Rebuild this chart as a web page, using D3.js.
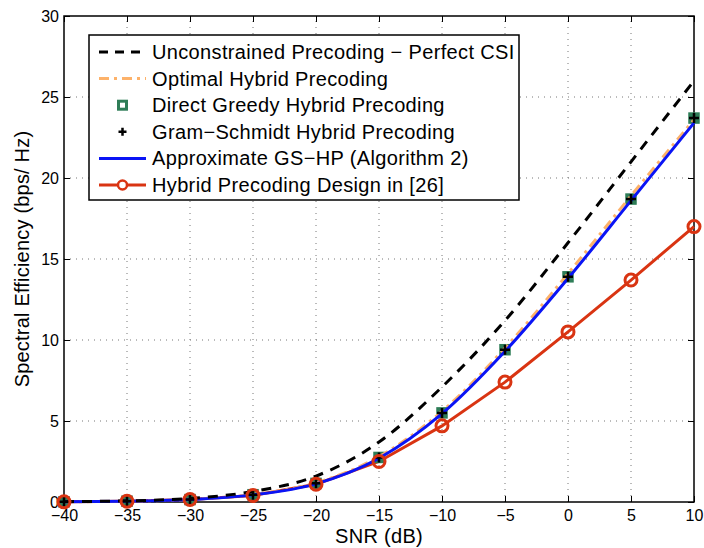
<!DOCTYPE html>
<html>
<head>
<meta charset="utf-8">
<style>
body { margin: 0; background: #fff; }
text { font-family: Arial, "Liberation Sans", sans-serif; fill: #000; }
.grid line { stroke: #777; stroke-width: 1; stroke-dasharray: 1,5; }
</style>
</head>
<body>
<script src="https://cdn.jsdelivr.net/npm/d3@7/dist/d3.min.js"></script>
<script>

var snr = [-40, -35, -30, -25, -20, -15, -10, -5, 0, 5, 10];

var unconstrained = [0.02, 0.07, 0.22, 0.65, 1.6, 3.7, 7.1, 11.2, 16.0, 21.0, 26.0];
var optimalHybrid = [0.01, 0.05, 0.16, 0.47, 1.18, 2.8, 5.6, 9.5, 14.1, 18.9, 23.6];
var directGreedy = [0.01, 0.05, 0.15, 0.45, 1.15, 2.75, 5.5, 9.4, 13.9, 18.7, 23.7];
var gramSchmidt = [0.01, 0.05, 0.15, 0.45, 1.15, 2.75, 5.5, 9.4, 13.9, 18.7, 23.7];
var approxGS = [0.01, 0.05, 0.15, 0.44, 1.12, 2.7, 5.45, 9.3, 13.8, 18.6, 23.4];
var design26 = [0.01, 0.05, 0.15, 0.4, 1.1, 2.5, 4.7, 7.4, 10.5, 13.7, 17.0];

var xTicks = [-40, -35, -30, -25, -20, -15, -10, -5, 0, 5, 10];
var yTicks = [0, 5, 10, 15, 20, 25, 30];

var legendLabels = [
  "Unconstrained Precoding \u2212 Perfect CSI",
  "Optimal Hybrid Precoding",
  "Direct Greedy Hybrid Precoding",
  "Gram\u2212Schmidt Hybrid Precoding",
  "Approximate GS\u2212HP (Algorithm 2)",
  "Hybrid Precoding Design in [26]"
];

var width = 704, height = 548;
var margin = {left: 64, right: 10, top: 16, bottom: 46};

var svg = d3.select("body").append("svg")
    .attr("width", width)
    .attr("height", height);

var x = d3.scaleLinear().domain([-40, 10]).range([margin.left, width - margin.right]);
var y = d3.scaleLinear().domain([0, 30]).range([height - margin.bottom, margin.top]);

var red = "#d93412", blue = "#0a14f5", green = "#2e7d57", orange = "#fdb26a";
var tickFont = "Arial, 'Liberation Sans', sans-serif";

// grid
var grid = svg.append("g").attr("class", "grid");
grid.selectAll(".gx").data(xTicks.slice(1, -1)).enter().append("line")
    .attr("x1", d => x(d)).attr("x2", d => x(d))
    .attr("y1", y(0)).attr("y2", y(30));
grid.selectAll(".gy").data(yTicks.slice(1, -1)).enter().append("line")
    .attr("x1", x(-40)).attr("x2", x(10))
    .attr("y1", d => y(d)).attr("y2", d => y(d));

// box
svg.append("rect")
    .attr("x", x(-40)).attr("y", y(30))
    .attr("width", x(10) - x(-40)).attr("height", y(0) - y(30))
    .attr("fill", "none").attr("stroke", "#000").attr("stroke-width", 1.5);

// axes, ticks inside
svg.append("g")
    .attr("transform", "translate(0," + y(0) + ")")
    .call(d3.axisBottom(x).tickValues(xTicks).tickSize(-6).tickPadding(8).tickFormat(d => d < 0 ? "\u2212" + (-d) : d))
    .call(g => g.select(".domain").remove())
    .call(g => g.selectAll("text").attr("font-size", 16).attr("font-family", tickFont));
svg.append("g")
    .attr("transform", "translate(" + x(10) + ",0)")
    .call(d3.axisLeft(y).tickValues(yTicks).tickSize(6).tickFormat(""))
    .call(g => g.select(".domain").remove());
svg.append("g")
    .attr("transform", "translate(0," + y(30) + ")")
    .call(d3.axisTop(x).tickValues(xTicks).tickSize(-6).tickFormat(""))
    .call(g => g.select(".domain").remove());
svg.append("g")
    .attr("transform", "translate(" + x(-40) + ",0)")
    .call(d3.axisLeft(y).tickValues(yTicks).tickSize(-6).tickPadding(5))
    .call(g => g.select(".domain").remove())
    .call(g => g.selectAll("text").attr("font-size", 16).attr("font-family", tickFont));

svg.append("text")
    .attr("x", (x(-40) + x(10)) / 2).attr("y", 543)
    .attr("text-anchor", "middle").style("font-size", "20px").style("letter-spacing", "0.3px")
    .text("SNR (dB)");
svg.append("text")
    .attr("transform", "translate(29," + (y(15)) + ") rotate(-90)")
    .attr("text-anchor", "middle").style("font-size", "20px").style("letter-spacing", "0.2px")
    .text("Spectral Efficiency (bps/ Hz)");

function pts(vals) { return snr.map((s, i) => [s, vals[i]]); }

var line = d3.line().x(d => x(d[0])).y(d => y(d[1]));
var smooth = d3.line().x(d => x(d[0])).y(d => y(d[1])).curve(d3.curveMonotoneX);

var plot = svg.append("g");

// red design [26]
plot.append("path").datum(pts(design26))
    .attr("d", line).attr("fill", "none").attr("stroke", red).attr("stroke-width", 3);

// markers: green squares
plot.selectAll(".sq").data(pts(directGreedy)).enter().append("rect")
    .attr("x", d => x(d[0]) - 5).attr("y", d => y(d[1]) - 5)
    .attr("width", 10).attr("height", 10)
    .attr("fill", green).attr("stroke", green).attr("stroke-width", 1.5);

// orange dash dot
plot.append("path").datum(pts(optimalHybrid))
    .attr("d", smooth).attr("fill", "none").attr("stroke", orange)
    .attr("stroke-width", 3).attr("stroke-dasharray", "10,5,3,5");

// blue
plot.append("path").datum(pts(approxGS))
    .attr("d", smooth).attr("fill", "none").attr("stroke", blue).attr("stroke-width", 3);

// black dashed
plot.append("path").datum(pts(unconstrained))
    .attr("d", smooth).attr("fill", "none").attr("stroke", "#000")
    .attr("stroke-width", 3).attr("stroke-dasharray", "10,8");

// plus markers
plot.selectAll(".pl").data(pts(gramSchmidt)).enter().append("path")
    .attr("d", d => "M" + (x(d[0]) - 5) + "," + y(d[1]) + "h10M" + x(d[0]) + "," + (y(d[1]) - 5) + "v10")
    .attr("stroke", "#000").attr("stroke-width", 2.5);

// red circles
plot.selectAll(".ci").data(pts(design26)).enter().append("circle")
    .attr("cx", d => x(d[0])).attr("cy", d => y(d[1])).attr("r", 6)
    .attr("fill", "none").attr("stroke", red).attr("stroke-width", 3);

// legend
var lg = svg.append("g");
lg.append("rect").attr("x", 89).attr("y", 35).attr("width", 430).attr("height", 165)
    .attr("fill", "#fff").attr("stroke", "#000").attr("stroke-width", 1.5);

var rowY = d3.scalePoint().domain(d3.range(legendLabels.length)).range([52, 185]);
var sx0 = 99, sx1 = 146;

lg.selectAll(".lt").data(legendLabels).enter().append("text")
    .attr("x", 152).attr("y", (d, i) => rowY(i)).attr("dy", "0.35em")
    .style("font-size", "20px").style("letter-spacing", "0.35px").text(d => d);

lg.append("line").attr("x1", sx0).attr("x2", sx1).attr("y1", rowY(0)).attr("y2", rowY(0))
    .attr("stroke", "#000").attr("stroke-width", 3).attr("stroke-dasharray", "9,7");
lg.append("line").attr("x1", sx0).attr("x2", sx1).attr("y1", rowY(1)).attr("y2", rowY(1))
    .attr("stroke", orange).attr("stroke-width", 3).attr("stroke-dasharray", "10,5,3,5");
lg.append("rect").attr("x", (sx0 + sx1) / 2 - 4).attr("y", rowY(2) - 4).attr("width", 8).attr("height", 8)
    .attr("fill", "#fff").attr("stroke", green).attr("stroke-width", 3);
lg.append("path").attr("d", "M" + ((sx0 + sx1) / 2 - 4) + "," + rowY(3) + "h8M" + ((sx0 + sx1) / 2) + "," + (rowY(3) - 4) + "v8")
    .attr("stroke", "#000").attr("stroke-width", 2.5);
lg.append("line").attr("x1", sx0).attr("x2", sx1).attr("y1", rowY(4)).attr("y2", rowY(4))
    .attr("stroke", blue).attr("stroke-width", 3);
lg.append("line").attr("x1", sx0).attr("x2", sx1).attr("y1", rowY(5)).attr("y2", rowY(5))
    .attr("stroke", red).attr("stroke-width", 3);
lg.append("circle").attr("cx", (sx0 + sx1) / 2).attr("cy", rowY(5)).attr("r", 4.5)
    .attr("fill", "#fff").attr("stroke", red).attr("stroke-width", 2.5);

</script>
</body>
</html>
